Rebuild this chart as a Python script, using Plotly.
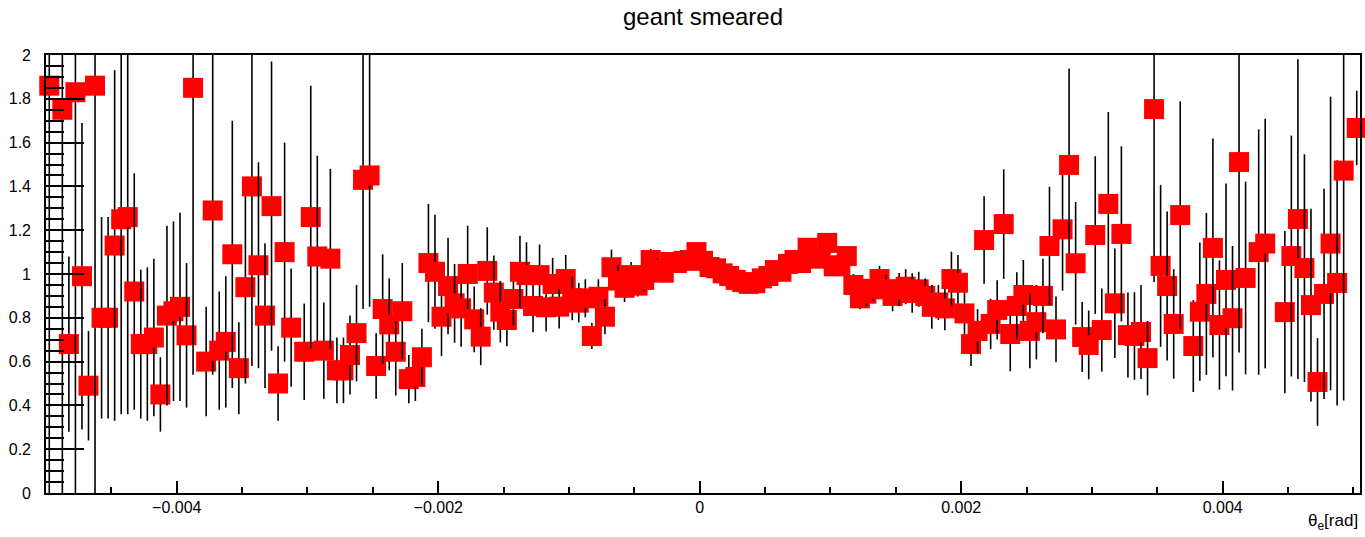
import numpy as np
import plotly.graph_objects as go

# ---------------- data ----------------
title_text = "geant smeared"
x_title = "θ<sub>e</sub>[rad]"

x_low = -0.005          # lower edge of the first bin
bin_width = 0.00005     # histogram bin width
n_bins = 201

# bin contents (None = bin not drawn)
counts = [
    1.86, None, 1.75, 0.68, 1.83, 0.99, 0.49, 1.86, 0.80, 0.80,
    1.13, 1.25, 1.26, 0.92, 0.68, 0.68, 0.71, 0.45, 0.81, 0.83,
    0.85, 0.72, 1.85, None, 0.60, 1.29, 0.65, 0.69, 1.09, 0.57,
    0.94, 1.40, 1.04, 0.81, 1.31, 0.50, 1.10, 0.755, None, 0.645,
    1.26, 1.08, 0.65, 1.07, 0.56, 0.56, 0.63, 0.73, 1.43, 1.45,
    0.58, 0.84, 0.77, 0.645, 0.83, 0.52, 0.53, 0.62, 1.05, 1.01,
    0.805, 0.945, 0.866, 0.843, 1.00, 0.793, 0.714, 1.014, 0.915, 0.828,
    0.79, 0.886, 1.01, 0.995, 0.854, 0.995, 0.848, 0.954, 0.851, 0.977,
    0.889, 0.869, 0.889, 0.717, 0.896, 0.805, 1.031, 0.97, 0.937, 0.995,
    0.947, 0.973, 1.064, 1.02, 1.006, 1.055, 1.05, 1.06, 1.064, 1.10,
    1.06, 1.032, 1.026, 1.003, 0.991, 0.973, 0.963, 0.955, 0.958, 0.98,
    0.991, 1.018, 1.01, 1.046, 1.064, 1.05, 1.12, 1.08, 1.07, 1.142,
    1.035, 1.04, 1.082, 0.95, 0.889, 0.91, 0.932, 0.977, 0.93, 0.90,
    0.929, 0.942, 0.913, 0.93, 0.90, 0.85, 0.87, 0.843, 0.977, 0.96,
    0.82, 0.68, 0.74, 1.155, 0.772, 0.836, 1.228, 0.726, 0.854, 0.904,
    0.74, 0.78, 0.90, 1.128, 0.747, 1.204, 1.498, 1.049, 0.712, 0.676,
    1.178, 0.744, 1.32, 0.866, 1.183, 0.721, 0.717, 0.735, 0.616, 1.753,
    1.037, 0.945, 0.772, 1.269, None, 0.671, 0.828, 0.909, 1.119, 0.767,
    0.973, 0.798, 1.511, 0.982, None, 1.10, 1.139, None, None, 0.826,
    1.082, 1.251, 1.027, 0.858, 0.507, 0.909, 1.139, 0.959, 1.472, None,
    1.667,
]

# bin errors
errors = [
    2.0, 0.0, 2.0, 0.40, 2.0, 0.70, 0.25, 2.0, 0.46, 0.46,
    0.80, 0.89, 0.90, 0.54, 0.34, 0.35, 0.36, 0.17, 0.41, 0.41,
    0.43, 0.33, 1.31, 0.0, 0.25, 0.75, 0.27, 0.30, 0.61, 0.21,
    0.44, 0.82, 0.47, 0.33, 0.66, 0.17, 0.50, 0.27, 0.0, 0.22,
    0.60, 0.46, 0.22, 0.41, 0.15, 0.15, 0.18, 0.22, 0.59, 0.60,
    0.15, 0.25, 0.21, 0.20, 0.22, 0.11, 0.11, 0.13, 0.27, 0.26,
    0.18, 0.22, 0.18, 0.175, 0.22, 0.15, 0.13, 0.20, 0.17, 0.14,
    0.12, 0.12, 0.165, 0.15, 0.12, 0.14, 0.11, 0.12, 0.10, 0.11,
    0.10, 0.09, 0.087, 0.06, 0.08, 0.08, 0.08, 0.07, 0.065, 0.06,
    0.05, 0.05, 0.05, 0.05, 0.045, 0.045, 0.04, 0.04, 0.04, 0.04,
    0.04, 0.04, 0.04, 0.04, 0.04, 0.04, 0.04, 0.04, 0.04, 0.04,
    0.04, 0.04, 0.04, 0.04, 0.04, 0.04, 0.04, 0.04, 0.04, 0.04,
    0.04, 0.045, 0.045, 0.05, 0.05, 0.055, 0.055, 0.06, 0.065, 0.07,
    0.075, 0.08, 0.09, 0.08, 0.08, 0.10, 0.08, 0.10, 0.125, 0.127,
    0.095, 0.10, 0.10, 0.20, 0.115, 0.135, 0.25, 0.17, 0.154, 0.16,
    0.17, 0.17, 0.17, 0.27, 0.15, 0.28, 0.44, 0.28, 0.16, 0.157,
    0.36, 0.19, 0.42, 0.25, 0.40, 0.194, 0.20, 0.215, 0.17, 0.79,
    0.37, 0.34, 0.25, 0.52, 0.0, 0.21, 0.316, 0.37, 0.50, 0.295,
    0.44, 0.33, 0.87, 0.44, 0.0, 0.56, 0.57, 0.0, 0.0, 0.37,
    0.55, 0.73, 0.52, 0.44, 0.20, 0.48, 0.67, 0.56, 1.05, 0.0,
    0.17,
]

y_range = [0.0, 2.0]

# ---------------- figure ----------------
FONT = "Liberation Sans, Arial, Helvetica, sans-serif"
centers = x_low + (np.arange(n_bins) + 0.5) * bin_width

fig = go.Figure()
for xc, v, e in zip(centers, counts, errors):
    if v is None:
        continue
    up = min(e, y_range[1] - v)   # error bars are clipped to the frame
    dn = min(e, v - y_range[0])
    fig.add_trace(go.Scatter(
        x=[xc], y=[v], mode="markers",
        marker=dict(symbol="square", size=20, color="#ff0000", line=dict(width=0)),
        error_y=dict(type="data", symmetric=False, array=[up], arrayminus=[dn],
                     color="black", thickness=1.6, width=0),
        cliponaxis=False, showlegend=False, hoverinfo="skip",
    ))

axis_common = dict(
    showgrid=False, zeroline=False, showline=True, mirror=True,
    linecolor="black", linewidth=1.6, ticks="inside", tickwidth=1.5,
    tickcolor="black", tickfont=dict(family=FONT, size=16, color="black"),
)

fig.update_layout(
    width=1365, height=537,
    margin=dict(l=46, r=3, t=55, b=44),
    paper_bgcolor="white", plot_bgcolor="white",
    title=dict(text=title_text, x=0.5, xref="paper", xanchor="center",
               y=1 - 17 / 537, yref="container", yanchor="middle",
               font=dict(family=FONT, size=24, color="black")),
    xaxis=dict(range=[x_low, x_low + n_bins * bin_width], dtick=0.002, tick0=0,
               ticklen=12, ticklabelstandoff=-1,
               minor=dict(dtick=0.0005, tick0=0, ticklen=6, tickwidth=1.5,
                          tickcolor="black", ticks="inside", showgrid=False),
               **axis_common),
    yaxis=dict(range=y_range, dtick=0.2, tick0=0, ticklen=38, ticklabelstandoff=10,
               minor=dict(dtick=0.05, tick0=0, ticklen=18, tickwidth=1.5,
                          tickcolor="black", ticks="inside", showgrid=False),
               **axis_common),
    annotations=[dict(text=x_title, xref="paper", yref="paper", x=1.0, y=-0.036,
                      xanchor="right", yanchor="top", showarrow=False,
                      font=dict(family=FONT, size=17, color="black"))],
)

fig.write_html("out.html")
